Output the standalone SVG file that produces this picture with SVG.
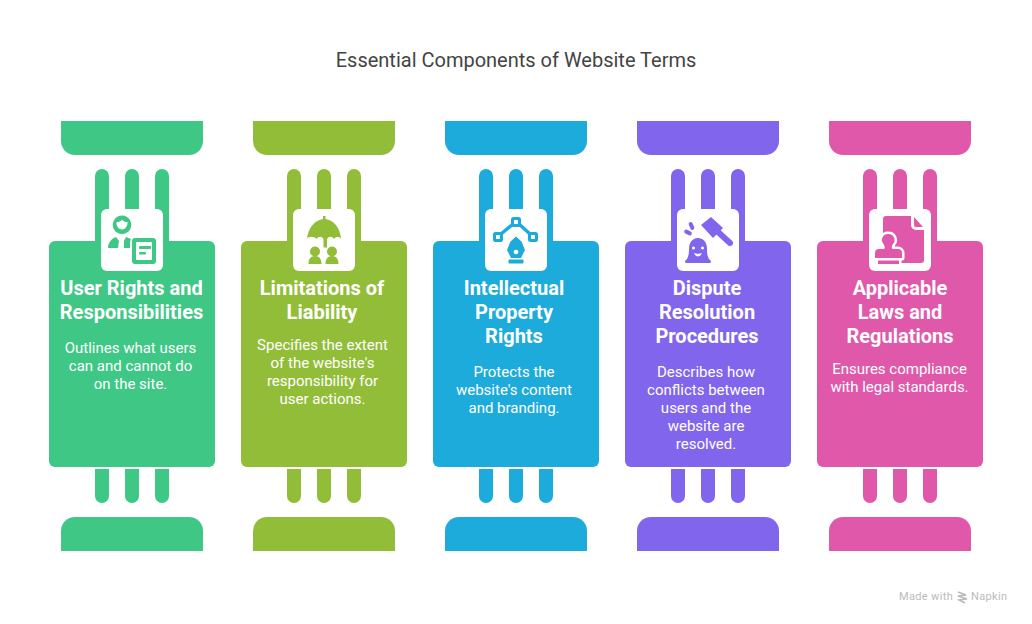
<svg xmlns="http://www.w3.org/2000/svg" xmlns:xlink="http://www.w3.org/1999/xlink" width="1032" height="624" viewBox="0 0 1032 624">
<style>
text{font-family:Roboto,"Liberation Sans",sans-serif;text-anchor:middle}
.t{font-size:20px;fill:#444}
.h{font-size:20px;font-weight:700;fill:#fff}
.d{font-size:15px;fill:#fff}
.w{fill:#fff}
.g{fill:#3EC785}.o{fill:#92BD39}.b{fill:#1DABDB}.p{fill:#8165EC}.k{fill:#DF58AA}
.m{font-size:11px;fill:#bbb;text-anchor:start;letter-spacing:.35px}
</style>
<defs>
<g id="frame">
<path d="M61 121H203V141A14 14 0 0 1 189 155H75A14 14 0 0 1 61 141Z"/>
<path d="M95 241V176A7 7 0 0 1 109 176V241ZM125 241V176A7 7 0 0 1 139 176V241ZM155 241V176A7 7 0 0 1 169 176V241Z"/>
<rect x="49" y="241" width="166" height="226" rx="6"/>
<path d="M95 469H109V496A7 7 0 0 1 95 496ZM125 469H139V496A7 7 0 0 1 125 496ZM155 469H169V496A7 7 0 0 1 155 496Z"/>
<path d="M61 551H203V531A14 14 0 0 0 189 517H75A14 14 0 0 0 61 531Z"/>
<rect class="w" x="101" y="209" width="62" height="62" rx="6"/>
</g>
</defs>
<text class="t" x="516" y="67">Essential Components of Website Terms</text>
<g id="node-1" class="g">
<use xlink:href="#frame"/>
<path fill-rule="evenodd" d="M122 215.500a9.300 9.300 0 1 0 .01 0ZM116.500 222c2 0 4.500-.5 5.500-2.500 1 2 3.500 2.500 5.500 2.500 .5 4-2.500 7.500-5.500 7.500s-6-3.500-5.500-7.500Z"/>
<path d="M108 248c0-5 3-9 8-11l3 4-1 7ZM124 241l2-4 5 2-1 3v6h-6Z"/>
<path fill-rule="evenodd" d="M135 238h18a3 3 0 0 1 3 3v20a3 3 0 0 1-3 3h-18a3 3 0 0 1-3-3v-20a3 3 0 0 1 3-3ZM137 242a1 1 0 0 0-1 1v16a1 1 0 0 0 1 1h14a1 1 0 0 0 1-1v-16a1 1 0 0 0-1-1Z"/>
<rect x="139" y="246" width="12" height="3" rx="1"/><rect x="139" y="252" width="7" height="2.500" rx="1"/>
<text class="h" x="131.500" y="294.500">User Rights and</text><text class="h" x="131.500" y="318.500">Responsibilities</text>
<text class="d" x="130.500" y="353">Outlines what users</text><text class="d" x="130.500" y="371">can and cannot do</text><text class="d" x="130.500" y="389">on the site.</text>
</g>
<g id="node-2" class="o" >
<use xlink:href="#frame" x="192"/>
<path d="M307 239c1-11 8-19 16-20v-3h2.500v3c8 1 15 9 15.500 20-2-3-5-3-7 0-2-3-5-3-7 0v8.500h-3.500V239c-2-3-5-3-7 0-2-3-8-3-10 0Z"/>
<circle cx="315" cy="251.500" r="5"/><circle cx="332" cy="251.500" r="5"/>
<path d="M308.500 264c0-5 2-8 6.500-8s6.500 3 6.500 8ZM325.500 264c0-5 2-8 6.500-8s6.500 3 6.500 8Z"/>
<text class="h" x="322" y="294.500">Limitations of</text><text class="h" x="322" y="318.500">Liability</text>
<text class="d" x="322.500" y="350">Specifies the extent</text><text class="d" x="322.500" y="368">of the website's</text><text class="d" x="322.500" y="386">responsibility for</text><text class="d" x="322.500" y="404">user actions.</text>
</g>
<g id="node-3" class="b">
<use xlink:href="#frame" x="384"/>
<path d="M501 234 513 224M519 224 530 234" fill="none" stroke="#1DABDB" stroke-width="3.500"/>
<path fill-rule="evenodd" d="M513.500 217h5a2.500 2.500 0 0 1 2.500 2.500v5a2.500 2.500 0 0 1-2.500 2.500h-5a2.500 2.500 0 0 1-2.500-2.500v-5a2.500 2.500 0 0 1 2.500-2.500ZM514 220v4h4v-4ZM495.500 232h5a2.500 2.500 0 0 1 2.500 2.500v5a2.500 2.500 0 0 1-2.500 2.500h-5a2.500 2.500 0 0 1-2.500-2.500v-5a2.500 2.500 0 0 1 2.500-2.500ZM496 235v4h4v-4ZM530.500 232h5a2.500 2.500 0 0 1 2.500 2.500v5a2.500 2.500 0 0 1-2.500 2.500h-5a2.500 2.500 0 0 1-2.500-2.500v-5a2.500 2.500 0 0 1 2.500-2.500ZM531 235v4h4v-4Z"/>
<path fill-rule="evenodd" d="M516 236.500l5.500 5 3.500 8.500-4 8h-10l-4-8 3.500-8.500ZM516 249.700a2.300 2.300 0 1 0 .01 0Z"/>
<rect x="508.500" y="259.500" width="15" height="4" rx="1"/>
<text class="h" x="514" y="294.500">Intellectual</text><text class="h" x="514" y="318.500">Property</text><text class="h" x="514" y="342.500">Rights</text>
<text class="d" x="514" y="377">Protects the</text><text class="d" x="514" y="395">website's content</text><text class="d" x="514" y="413">and branding.</text>
</g>
<g id="node-4" class="p">
<use xlink:href="#frame" x="576"/>
<path d="M701 225 711 217 723 228 713 238Z"/>
<path d="M717 231 730 243" fill="none" stroke="#8165EC" stroke-width="6" stroke-linecap="round"/>
<rect x="-2" y="-4" width="4" height="8" rx="2" transform="translate(691.500 226) rotate(-25)"/>
<rect x="-2" y="-4" width="4" height="8" rx="2" transform="translate(688 232.500) rotate(-65)"/>
<path fill-rule="evenodd" d="M698 238c6 0 9 5 9 11 0 6 1 10 4 12 0 2-1 2-2 2h-22c-1 0-2 0-2-2 3-2 4-6 4-12 0-6 3-11 9-11ZM693.500 246.500a1.500 1.500 0 1 0 .01 0ZM702.500 246.500a1.500 1.500 0 1 0 .01 0ZM694 253c1 2.500 3 3.500 4 3.500s3-1 4-3.500c-2 1-6 1-8 0Z"/>
<text class="h" x="707" y="294.500">Dispute</text><text class="h" x="707" y="318.500">Resolution</text><text class="h" x="707" y="342.500">Procedures</text>
<text class="d" x="706" y="377">Describes how</text><text class="d" x="706" y="395">conflicts between</text><text class="d" x="706" y="413">users and the</text><text class="d" x="706" y="431">website are</text><text class="d" x="706" y="449">resolved.</text>
</g>
<g id="node-5" class="k">
<use xlink:href="#frame" x="768"/>
<path d="M886 216H911V225a5 5 0 0 0 5 5H924V260a3 3 0 0 1-3 3H886a3 3 0 0 1-3-3V219a3 3 0 0 1 3-3ZM914 217 923 227H916a2 2 0 0 1-2-2Z"/>
<path stroke="#fff" stroke-width="5" stroke-linejoin="round" paint-order="stroke" d="M888.500 234a6 6 0 0 1 4.500 10c-1.500 2-1.500 4-.5 5h5.500a4 4 0 0 1 4 4v5H875v-5a4 4 0 0 1 4-4h5c1-1 1-3-.5-5a6 6 0 0 1 5-10ZM878 260.500h21v3.500H878Z"/>
<text class="h" x="900" y="294.500">Applicable</text><text class="h" x="900" y="318.500">Laws and</text><text class="h" x="900" y="342.500">Regulations</text>
<text class="d" x="899.500" y="374">Ensures compliance</text><text class="d" x="899.500" y="392">with legal standards.</text>
</g>
<g id="connectors"></g>
<text class="m" x="899" y="600">Made with</text>
<path d="M958 592l8 3-8 1 9 3-8 1 6 3" fill="none" stroke="#bbb" stroke-width="1.500"/>
<text class="m" x="971" y="600">Napkin</text>
</svg>
